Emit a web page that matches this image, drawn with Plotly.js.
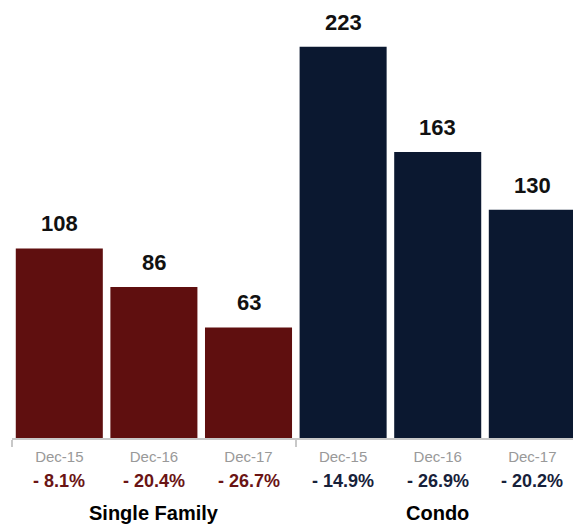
<!DOCTYPE html>
<html>
<head>
<meta charset="utf-8">
<script src="https://cdn.plot.ly/plotly-3.0.1.min.js"></script>
<style>html,body{margin:0;padding:0;background:#fff;}</style>
</head>
<body>
<div id="chart" style="width:573px;height:526px;"></div>
<script>
const periods = ["Dec-15", "Dec-16", "Dec-17"];
const groups = ["Single Family", "Condo"];
const singleFamily = [108, 86, 63];
const condo = [223, 163, 130];
const singleFamilyChange = ["- 8.1%", "- 20.4%", "- 26.7%"];
const condoChange = ["- 14.9%", "- 26.9%", "- 20.2%"];

const RED = "#5f0f0f";
const NAVY = "#0b1830";
const RED_TXT = "#6a1414";
const NAVY_TXT = "#17213a";
const FONT = "Liberation Sans, Arial, Helvetica, sans-serif";

const sfX = periods.map((_, i) => i);
const cX = periods.map((_, i) => i + periods.length);
const allX = sfX.concat(cX);
const allLabels = periods.concat(periods);

const traces = [
  {type: "bar", x: sfX, y: singleFamily, marker: {color: RED}, width: 0.92, hoverinfo: "none"},
  {type: "bar", x: cX, y: condo, marker: {color: NAVY}, width: 0.92, hoverinfo: "none"}
];

const annotations = [];
singleFamily.forEach((v, i) => annotations.push({x: sfX[i], y: v, xref: "x", yref: "y", text: "<b>" + v + "</b>", showarrow: false, yanchor: "bottom", yshift: 10, font: {family: FONT, size: 22, color: "#111"}}));
condo.forEach((v, i) => annotations.push({x: cX[i], y: v, xref: "x", yref: "y", text: "<b>" + v + "</b>", showarrow: false, yanchor: "bottom", yshift: 10, font: {family: FONT, size: 22, color: "#111"}}));
singleFamilyChange.forEach((t, i) => annotations.push({x: sfX[i], y: 0, xref: "x", yref: "paper", text: "<b>" + t + "</b>", showarrow: false, yanchor: "middle", yshift: -43, font: {family: FONT, size: 18, color: RED_TXT}}));
condoChange.forEach((t, i) => annotations.push({x: cX[i], y: 0, xref: "x", yref: "paper", text: "<b>" + t + "</b>", showarrow: false, yanchor: "middle", yshift: -43, font: {family: FONT, size: 18, color: NAVY_TXT}}));
groups.forEach((g, gi) => annotations.push({x: gi * periods.length + (periods.length - 1) / 2, y: 0, xref: "x", yref: "paper", text: "<b>" + g + "</b>", showarrow: false, yanchor: "middle", yshift: -75, font: {family: FONT, size: 20, color: "#000"}}));

const layout = {
  width: 573, height: 526,
  margin: {l: 12, r: 0, t: 10, b: 88},
  paper_bgcolor: "#fff", plot_bgcolor: "#fff",
  showlegend: false,
  xaxis: {
    range: [-0.5, 5.43],
    tickvals: allX, ticktext: allLabels,
    ticks: "", showgrid: false, zeroline: false,
    showline: true, linecolor: "#c8c8c8", linewidth: 2,
    tickfont: {family: FONT, size: 15, color: "#999"},
    ticklabelstandoff: 4,
    minor: {tickvals: [-0.5, 2.5, 5.5], ticks: "outside", ticklen: 7, tickwidth: 2, tickcolor: "#c8c8c8", showgrid: false}
  },
  yaxis: {range: [0, 243.9], visible: false, showgrid: false, zeroline: false},
  annotations: annotations
};

Plotly.newPlot("chart", traces, layout, {staticPlot: true, displayModeBar: false});
</script>
</body>
</html>
